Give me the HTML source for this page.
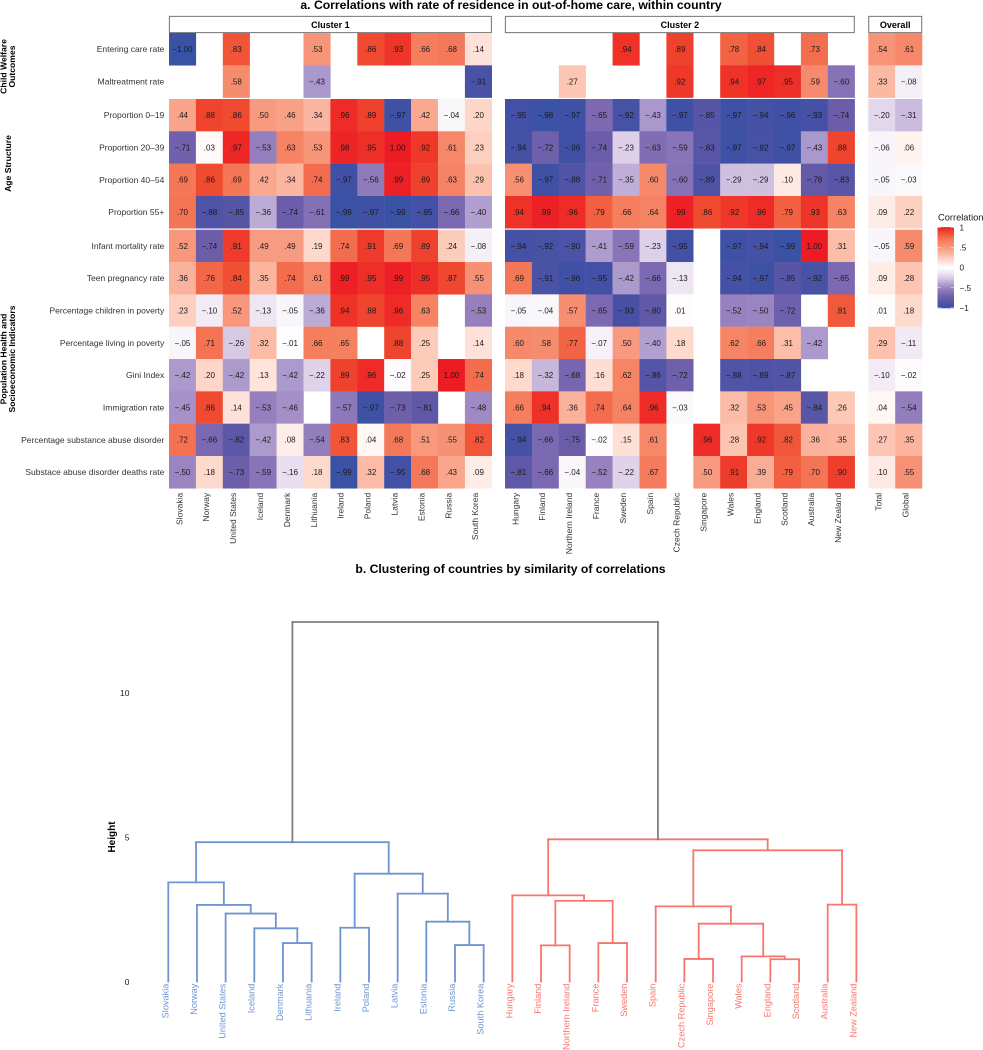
<!DOCTYPE html>
<html lang="en">
<head>
<meta charset="utf-8">
<title>Correlations and clustering of countries</title>
<style>
  html, body { margin: 0; padding: 0; background: #ffffff; }
  body { width: 983px; height: 1050px; overflow: hidden; }
  svg { display: block; }
  text { font-family: "Liberation Sans", Arial, sans-serif; fill: #1a1a1a; }
  .title { font-size: 12.2px; font-weight: bold; fill: #000; text-anchor: middle; }
  .strip { font-size: 9px; font-weight: bold; fill: #000; text-anchor: middle; }
  .group { font-size: 8.6px; font-weight: bold; fill: #000; text-anchor: middle; }
  .tick { font-size: 8.5px; fill: #333; }
  .cell-label { font-size: 8px; fill: #1a1a1a; text-anchor: middle; }
</style>
</head>
<body>
<svg id="chart" width="983" height="1050" viewBox="0 0 983 1050" xmlns="http://www.w3.org/2000/svg">
  <defs>
    <linearGradient id="legend-gradient" x1="0" y1="0" x2="0" y2="1"></linearGradient>
  </defs>
  <text class="title" x="511" y="9">a. Correlations with rate of residence in out-of-home care, within country</text>
  <text class="title" x="510.5" y="573">b. Clustering of countries by similarity of correlations</text>

  <g>
    <text class="group" transform="translate(6.5,66.5) rotate(-90)">Child Welfare</text>
    <text class="group" transform="translate(15,66.5) rotate(-90)">Outcomes</text>
  </g>
  <g>
    <text class="group" transform="translate(11,163.5) rotate(-90)">Age Structure</text>
  </g>
  <g>
    <text class="group" transform="translate(6.5,359) rotate(-90)">Population Health and</text>
    <text class="group" transform="translate(15,359) rotate(-90)">Socioeconomic Indicators</text>
  </g>

  <g id="strips"></g>
  <g id="heatmap"></g>
  <g id="row-axis"></g>
  <g id="column-axis"></g>
  <g id="legend"></g>
  <g id="dendrogram"></g>
  <g id="dendro-axis"></g>
</svg>

<script>
const rowLabels = ["Entering care rate", "Maltreatment rate", "Proportion 0–19", "Proportion 20–39", "Proportion 40–54", "Proportion 55+", "Infant mortality rate", "Teen pregnancy rate", "Percentage children in poverty", "Percentage living in poverty", "Gini Index", "Immigration rate", "Percentage substance abuse disorder", "Substace abuse disorder deaths rate"];
const panelTitles = ["Cluster 1", "Cluster 2", "Overall"];
const cluster1Countries = ["Slovakia", "Norway", "United States", "Iceland", "Denmark", "Lithuania", "Ireland", "Poland", "Latvia", "Estonia", "Russia", "South Korea"];
const cluster2Countries = ["Hungary", "Finland", "Northern Ireland", "France", "Sweden", "Spain", "Czech Republic", "Singapore", "Wales", "England", "Scotland", "Australia", "New Zealand"];
const overallColumns = ["Total", "Global"];

const cluster1Values = [
  [-1.00, null, .83, null, null, .53, null, .86, .93, .66, .68, .14],
  [null, null, .58, null, null, -.43, null, null, null, null, null, -.91],
  [.44, .88, .86, .50, .46, .34, .96, .89, -.97, .42, -.04, .20],
  [-.71, .03, .97, -.53, .63, .53, .98, .95, 1.00, .92, .61, .23],
  [.69, .86, .69, .42, .34, .74, -.97, -.56, .99, .89, .63, .29],
  [.70, -.88, -.85, -.36, -.74, -.61, -.99, -.97, -.99, -.95, -.66, -.40],
  [.52, -.74, .91, .49, .49, .19, .74, .91, .69, .89, .24, -.08],
  [.36, .76, .84, .35, .74, .61, .99, .95, .99, .95, .87, .55],
  [.23, -.10, .52, -.13, -.05, -.36, .94, .88, .96, .63, null, -.53],
  [-.05, .71, -.26, .32, -.01, .66, .65, null, .88, .25, null, .14],
  [-.42, .20, -.42, .13, -.42, -.22, .89, .96, -.02, .25, 1.00, .74],
  [-.45, .86, .14, -.53, -.46, null, -.57, -.97, -.73, -.81, null, -.48],
  [.72, -.66, -.82, -.42, .08, -.54, .83, .04, .68, .51, .55, .82],
  [-.50, .18, -.73, -.59, -.16, .18, -.99, .32, -.95, .68, .43, .09]
];
const cluster2Values = [
  [null, null, null, null, .94, null, .89, null, .78, .84, null, .73, null],
  [null, null, .27, null, null, null, .92, null, .94, .97, .95, .59, -.60],
  [-.95, -.98, -.97, -.65, -.92, -.43, -.97, -.85, -.97, -.94, -.96, -.93, -.74],
  [-.94, -.72, -.96, -.74, -.23, -.63, -.59, -.83, -.97, -.92, -.97, -.43, .88],
  [.56, -.97, -.88, -.71, -.35, .60, -.60, -.89, -.29, -.29, .10, -.78, -.83],
  [.94, .99, .96, .79, .66, .64, .99, .86, .92, .96, .79, .93, .63],
  [-.94, -.92, -.90, -.41, -.59, -.23, -.95, null, -.97, -.94, -.99, 1.00, .31],
  [.69, -.91, -.96, -.95, -.42, -.66, -.13, null, -.94, -.97, -.85, -.92, -.65],
  [-.05, -.04, .57, -.65, -.93, -.80, .01, null, -.52, -.50, -.72, null, .81],
  [.60, .58, .77, -.07, .50, -.40, .18, null, .62, .66, .31, -.42, null],
  [.18, -.32, -.68, .16, .62, -.86, -.72, null, -.88, -.89, -.87, null, null],
  [.66, .94, .36, .74, .64, .96, -.03, null, .32, .53, .45, -.84, .26],
  [-.94, -.66, -.75, -.02, .15, .61, null, .96, .28, .92, .82, .36, .35],
  [-.81, -.66, -.04, -.52, -.22, .67, null, .50, .91, .39, .79, .70, .90]
];
const overallValues = [
  [.54, .61], [.33, -.08], [-.20, -.31], [-.06, .06], [-.05, -.03], [.09, .22], [-.05, .59],
  [.09, .28], [.01, .18], [.29, -.11], [-.10, -.02], [.04, -.54], [.27, .35], [.10, .55]
];

const legendTicks = [1, .5, 0, -.5, -1];
const legendTickLabels = ["1", ".5", "0", "−.5", "−1"];
const heightTicks = [0, 5, 10];

/* Dendrogram merges, hclust convention: negative = leaf (-1 is the first leaf), positive = earlier merge (1-based). */
const leafNames = cluster1Countries.concat(cluster2Countries);
const mergeLeft = [-5, -4, -3, -2, -1, -7, -11, -10, -9, 6, 5, -14, -16, 12, -13, -19, -22, -21, 16, -18, -24, 20, 15, 11];
const mergeRight = [-6, 1, 2, 3, 4, -8, -12, 7, 8, 9, 10, -15, -17, 13, 14, -20, -23, 17, 18, 19, -25, 21, 22, 23];
const mergeHeights = [1.33, 1.84, 2.35, 2.65, 3.43, 1.86, 1.26, 2.07, 3.04, 3.73, 4.82, 1.25, 1.33, 2.79, 2.98, .78, .77, .87, 2.0, 2.60, 2.66, 4.54, 4.92, 12.44];

const NS = "http://www.w3.org/2000/svg";
function make(tag, parent, attrs, text) {
  const el = document.createElementNS(NS, tag);
  for (const k in attrs) el.setAttribute(k, attrs[k]);
  if (text !== undefined) el.textContent = text;
  parent.appendChild(el);
  return el;
}

/* ---------- colour scale ---------- */
function hexRgb(h) { return [parseInt(h.slice(1, 3), 16), parseInt(h.slice(3, 5), 16), parseInt(h.slice(5, 7), 16)]; }
const posStops = [[0, "#ffffff"], [.15, "#fee0d6"], [.25, "#fdcbb9"], [.35, "#fbb49e"], [.5, "#f89a7f"], [.65, "#f58060"], [.75, "#f36a4b"], [.85, "#f04e32"], [.95, "#ee2f27"], [1, "#ed1c24"]];
const negStops = [[0, "#ffffff"], [.1, "#f3ecf6"], [.25, "#dacce6"], [.4, "#b19fcf"], [.5, "#9b85c0"], [.65, "#7c69b1"], [.75, "#6a5ca9"], [.85, "#5655a6"], [.95, "#4250a5"], [1, "#3853a4"]];
function fillColor(v) {
  const stops = v >= 0 ? posStops : negStops;
  const a = Math.min(1, Math.abs(v));
  for (let i = 1; i < stops.length; i++) {
    if (a <= stops[i][0]) {
      const t = (a - stops[i - 1][0]) / (stops[i][0] - stops[i - 1][0]);
      const c0 = hexRgb(stops[i - 1][1]), c1 = hexRgb(stops[i][1]);
      return "rgb(" + c0.map((c, j) => Math.round(c + (c1[j] - c) * t)).join(",") + ")";
    }
  }
  return stops[stops.length - 1][1];
}
function formatValue(v) {
  const s = Math.abs(v).toFixed(2).replace(/^0/, "");
  return (v < 0 ? "−" : "") + s;
}

/* ---------- heatmap axes ---------- */
const cellW = 26.9, rowH = 32.33;
const panelLeft = [169, 505, 868.3];
const groupStart = [0, 2, 6];
const groupTop = [33, 99, 229.7];
function rowY(r) {
  let g = 0;
  for (let i = 0; i < groupStart.length; i++) if (r >= groupStart[i]) g = i;
  return groupTop[g] + (r - groupStart[g]) * rowH;
}
function colX(panel, c) { return panelLeft[panel] + c * cellW; }

const panelColumns = [cluster1Countries, cluster2Countries, overallColumns];
const panelValues = [cluster1Values, cluster2Values, overallValues];
const heatmap = document.getElementById("heatmap");
const strips = document.getElementById("strips");
const rowAxis = document.getElementById("row-axis");
const columnAxis = document.getElementById("column-axis");

panelTitles.forEach(function (title, p) {
  const w = panelColumns[p].length * cellW;
  const box = make("rect", strips, { x: panelLeft[p] + .4, y: 16.4, width: w - .8, height: 16.2, fill: "#ffffff", stroke: "#7f7f7f", "stroke-width": 1.1 });
  
  
  const label = make("text", strips, { class: "strip", x: panelLeft[p] + w / 2, y: 28 }, title);
  
  
});

panelValues.forEach(function (matrix, p) {
  matrix.forEach(function (row, r) {
    row.forEach(function (v, c) {
      if (v === null) return;
      const x = colX(p, c), y = rowY(r);
      const cell = make("rect", heatmap, { x: x, y: y, width: cellW + .2, height: rowH + .2, fill: fillColor(v) });
      
      
      const t = make("text", heatmap, { class: "cell-label", x: x + cellW / 2, y: y + rowH / 2 + 2.9 }, formatValue(v));
      
      
    });
  });
});

rowLabels.forEach(function (name, r) {
  const t = make("text", rowAxis, { class: "tick", x: 164.3, y: rowY(r) + rowH / 2 + 3, "text-anchor": "end" }, name);
  
  
});

panelColumns.forEach(function (cols, p) {
  cols.forEach(function (name, c) {
    const cx = colX(p, c) + cellW / 2 - 3.2;
    const t = make("text", columnAxis, { class: "tick", transform: "translate(" + cx + ",492.8) rotate(-90)", "text-anchor": "end", y: 3 }, name);
    
    
  });
});

/* ---------- legend ---------- */
function legendY(v) { return 267.7 - 40.1 * v; }
const legend = document.getElementById("legend");
const gradient = document.getElementById("legend-gradient");
for (let i = 0; i <= 40; i++) {
  make("stop", gradient, { offset: (i / 40 * 100) + "%", "stop-color": fillColor(1 - i / 20) });
}
const legendTitle = make("text", legend, { x: 938, y: 220.5, "font-size": "9.3px", fill: "#1a1a1a" }, "Correlation");


const legendBar = make("rect", legend, { x: 937.5, y: legendY(1) - .5, width: 16.5, height: legendY(-1) - legendY(1) + 1, fill: "url(#legend-gradient)" });


legendTicks.forEach(function (v, i) {
  const y = legendY(v);
  const a = make("line", legend, { x1: 937.5, x2: 941, y1: y, y2: y, stroke: "#ffffff", "stroke-width": .6, "stroke-opacity": .8 });
  
  
  const b = make("line", legend, { x1: 950.5, x2: 954, y1: y, y2: y, stroke: "#ffffff", "stroke-width": .6, "stroke-opacity": .8 });
  
  
  const t = make("text", legend, { x: 959.5, y: y + 3, "font-size": "8.2px", fill: "#1a1a1a" }, legendTickLabels[i]);
  
  
});

/* ---------- dendrogram ---------- */
function leafX(i) { return 168.3 + 28.67 * i; }
function heightY(h) { return 981.5 - 28.9 * h; }
const dendrogram = document.getElementById("dendrogram");
const dendroAxis = document.getElementById("dendro-axis");
const blue = "#6f94d2", red = "#f8766d", grey = "#7f7f7f";

function segment(x1, y1, x2, y2, color) {
  const seg = make("line", dendrogram, { x1: x1, y1: y1, x2: x2, y2: y2, stroke: color, "stroke-width": 1.8, "stroke-linecap": "square" });
  
  
}
function drawNode(ref, color) {
  if (ref < 0) return { x: leafX(-ref - 1), h: 0 };
  const idx = ref - 1;
  const isRoot = idx === mergeHeights.length - 1;
  const a = drawNode(mergeLeft[idx], isRoot ? blue : color);
  const b = drawNode(mergeRight[idx], isRoot ? red : color);
  const h = mergeHeights[idx];
  segment(a.x, heightY(a.h), a.x, heightY(h), color);
  segment(b.x, heightY(b.h), b.x, heightY(h), color);
  segment(a.x, heightY(h), b.x, heightY(h), color);
  return { x: (a.x + b.x) / 2, h: h };
}
drawNode(mergeHeights.length, grey);

leafNames.forEach(function (name, i) {
  const t = make("text", dendrogram, { transform: "translate(" + (leafX(i) - 3) + ",983.6) rotate(-90)", "text-anchor": "end", y: 3, "font-size": "9.2px", style: "fill:" + (i < cluster1Countries.length ? blue : red) }, name);
  
  
});

heightTicks.forEach(function (h) {
  const t = make("text", dendroAxis, { class: "tick", x: 129.5, y: heightY(h) + 3.6, "text-anchor": "end", style: "fill:#1a1a1a" }, String(h));
  
  
});
const heightTitle = make("text", dendroAxis, { transform: "translate(115,837) rotate(-90)", "text-anchor": "middle", "font-size": "10px", "font-weight": "bold", style: "fill:#000" }, "Height");


</script>
</body>
</html>
